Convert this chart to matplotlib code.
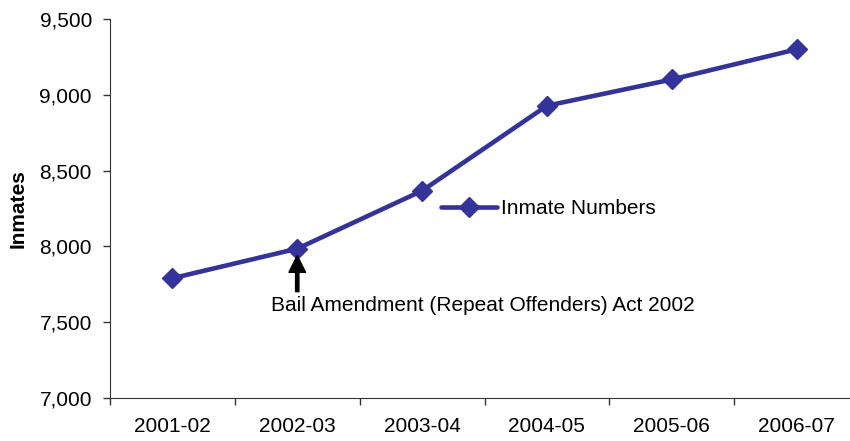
import numpy as np
import matplotlib
matplotlib.use('Agg')
import matplotlib.pyplot as plt

plt.rcParams['font.family'] = ['Liberation Sans', 'DejaVu Sans']

years = ['2001-02', '2002-03', '2003-04', '2004-05', '2005-06', '2006-07']
inmates = [7790, 7985, 8367, 8928, 9101, 9300]

y_ticks = [7000, 7500, 8000, 8500, 9000, 9500]

line_colour = '#333399'

fig = plt.figure(figsize=[8.5, 4.41], dpi=100)
# axes run past the right edge of the figure, as in the original
ax = fig.add_axes([110 / 850, 43 / 441, 749 / 850, 379 / 441])

x = np.arange(len(years))

ax.plot(x, inmates, color=line_colour, lw=3.3, marker='D', ms=10,
		label='Inmate Numbers', solid_capstyle='round')

ax.set_xlim(-0.5, len(years) - 0.5)
ax.set_ylim(y_ticks[0], y_ticks[-1])

# category boundaries carry the tick marks, labels sit in the middle
ax.set_xticks(np.arange(len(years) + 1) - 0.5)
ax.set_xticklabels([])
ax.set_xticks(x, minor=True)
ax.set_xticklabels(years, minor=True)
ax.tick_params(axis='x', which='major', direction='out', length=5, width=1, color='#333333')
ax.tick_params(axis='x', which='minor', length=0, pad=14, labelsize=15)

ax.set_yticks(y_ticks)
ax.set_yticklabels(['{:,}'.format(v) for v in y_ticks])
ax.tick_params(axis='y', direction='out', length=5, width=1, pad=8, labelsize=15, color='#333333')

ax.spines['top'].set_visible(False)
ax.spines['right'].set_visible(False)
ax.spines['left'].set_color('#333333')
ax.spines['bottom'].set_color('#333333')

ax.set_ylabel('Inmates', fontsize=15, fontweight='bold', labelpad=8.5)

ax.annotate('', xy=(1, inmates[1]), xytext=(0, -36), textcoords='offset points',
			xycoords='data',
			arrowprops=dict(facecolor='black', edgecolor='black', width=2.4,
							headwidth=12, headlength=12, shrink=0.14))
ax.annotate('Bail Amendment (Repeat Offenders) Act 2002', xy=(1, inmates[1]),
			xytext=(-19, -41), textcoords='offset points', ha='left', va='center',
			fontsize=15)

ax.legend(loc='center left', bbox_to_anchor=(331 / 749, 189 / 379), frameon=False,
		  fontsize=15, handlelength=2.7, handletextpad=0.2, borderpad=0,
		  borderaxespad=0)

plt.savefig('out.png', dpi=100)
